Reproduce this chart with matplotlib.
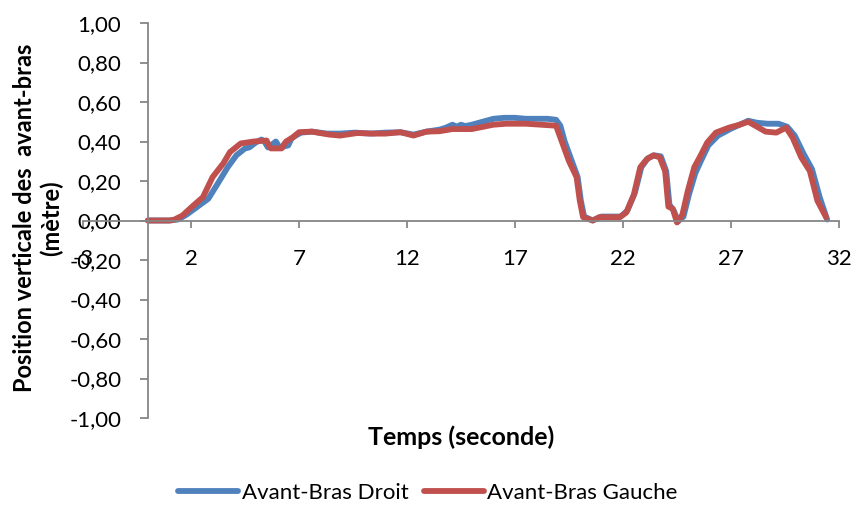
import matplotlib
matplotlib.use("Agg")
import matplotlib.pyplot as plt
from matplotlib.ticker import FixedLocator, FuncFormatter

# Vertical forearm position over time (seconds, metres)
t_droit = [0, 0.6, 1.0, 1.4, 1.8, 2.3, 2.8, 3.2, 3.7, 4.1, 4.5, 4.7, 5.0, 5.26,
           5.4, 5.56, 5.75, 5.93, 6.1, 6.3, 6.5, 6.65, 6.85, 7.1, 7.6, 8.3, 8.9,
           9.6, 10.3, 11.0, 11.7, 12.3, 12.9, 13.5, 13.8, 14.1, 14.3, 14.5, 14.7,
           15.0, 15.5, 16.0, 16.5, 17.0, 17.5, 18.0, 18.5, 18.9, 19.1, 19.3,
           19.6, 19.9, 20.05, 20.2, 20.6, 21.0, 21.9, 22.2, 22.55, 22.85, 23.15,
           23.45, 23.75, 24.0, 24.15, 24.35, 24.55, 24.8, 25.05, 25.35, 25.6,
           25.95, 26.4, 27.0, 27.5, 27.8, 28.2, 28.7, 29.2, 29.6, 29.95, 30.35,
           30.75, 31.1, 31.45]
y_droit = [0.0, 0.0, 0.0, 0.005, 0.03, 0.07, 0.11, 0.18, 0.27, 0.33, 0.365, 0.37,
           0.395, 0.41, 0.40, 0.37, 0.385, 0.40, 0.37, 0.375, 0.38, 0.415, 0.43,
           0.445, 0.45, 0.44, 0.44, 0.445, 0.44, 0.445, 0.447, 0.435, 0.45, 0.46,
           0.47, 0.485, 0.475, 0.485, 0.478, 0.485, 0.50, 0.515, 0.52, 0.52,
           0.515, 0.515, 0.515, 0.51, 0.48, 0.40, 0.31, 0.22, 0.10, 0.02, 0.0,
           0.02, 0.02, 0.05, 0.14, 0.27, 0.315, 0.33, 0.325, 0.25, 0.08, 0.05,
           -0.005, 0.02, 0.13, 0.24, 0.30, 0.38, 0.43, 0.465, 0.49, 0.505, 0.495,
           0.49, 0.49, 0.475, 0.43, 0.34, 0.26, 0.12, 0.005]

t_gauche = [0, 0.5, 1.0, 1.2, 1.6, 2.1, 2.55, 3.0, 3.5, 3.8, 4.3, 4.9, 5.5, 5.6,
            5.7, 6.2, 6.3, 6.4, 6.7, 7.0, 7.6, 8.4, 8.9, 9.7, 10.4, 11.0, 11.7,
            12.3, 12.9, 13.5, 14.1, 15.0, 16.0, 16.6, 17.5, 18.2, 18.9, 19.2,
            19.5, 19.85, 20.0, 20.15, 20.6, 20.9, 21.85, 22.15, 22.5, 22.8, 23.1,
            23.4, 23.7, 23.95, 24.1, 24.3, 24.5, 24.75, 25.0, 25.3, 25.55, 25.9,
            26.3, 26.9, 27.4, 27.8, 28.2, 28.6, 29.1, 29.55, 29.85, 30.25, 30.65,
            31.0, 31.4]
y_gauche = [0.0, 0.0, 0.0, 0.003, 0.025, 0.075, 0.118, 0.22, 0.29, 0.346, 0.39,
            0.40, 0.405, 0.38, 0.365, 0.365, 0.385, 0.40, 0.42, 0.447, 0.45, 0.435,
            0.43, 0.443, 0.44, 0.44, 0.447, 0.43, 0.45, 0.452, 0.463, 0.463, 0.485,
            0.49, 0.49, 0.485, 0.48, 0.39, 0.30, 0.22, 0.10, 0.017, 0.0, 0.017,
            0.017, 0.04, 0.13, 0.27, 0.31, 0.33, 0.32, 0.25, 0.07, 0.06, -0.01,
            0.03, 0.15, 0.27, 0.32, 0.395, 0.445, 0.47, 0.485, 0.50, 0.475, 0.45,
            0.445, 0.47, 0.42, 0.32, 0.25, 0.10, 0.017]

x_ticks = [-3, 2, 7, 12, 17, 22, 27, 32]
y_ticks = [-1.0, -0.8, -0.6, -0.4, -0.2, 0.0, 0.2, 0.4, 0.6, 0.8, 1.0]

BLUE = "#4F81BD"
RED = "#C0504D"
GREY = "#868686"
FONT = "Lato"

plt.rcParams["font.family"] = [FONT, "DejaVu Sans"]

fig = plt.figure(figsize=(8.56, 5.07), dpi=100)
ax = fig.add_axes([83 / 856, 1 - 418 / 507, (839 - 83) / 856, (418 - 23) / 507])

ax.plot(t_droit, y_droit, color=BLUE, lw=4.2, solid_capstyle="round",
        solid_joinstyle="round", label="Avant-Bras Droit")
ax.plot(t_gauche, y_gauche, color=RED, lw=4.2, solid_capstyle="round",
        solid_joinstyle="round", label="Avant-Bras Gauche")

ax.set_xlim(-3, 32)
ax.set_ylim(-1, 1)

for side in ("top", "right"):
    ax.spines[side].set_visible(False)
ax.spines["left"].set_position(("data", 0))
ax.spines["bottom"].set_position(("data", 0))
for side in ("left", "bottom"):
    ax.spines[side].set_color(GREY)
    ax.spines[side].set_linewidth(1.3)

ax.xaxis.set_major_locator(FixedLocator(x_ticks))
ax.yaxis.set_major_locator(FixedLocator(y_ticks))
ax.xaxis.set_major_formatter(FuncFormatter(lambda v, p: f"{int(round(v))}"))


def fr_fmt(v, p):
    s = f"{abs(v):.2f}".replace(".", ",")
    return ("-" + s) if v < -1e-9 else s


ax.yaxis.set_major_formatter(FuncFormatter(fr_fmt))
ax.tick_params(axis="x", direction="out", length=5, width=1.3, color=GREY,
               pad=15.5, labelsize=16)
ax.tick_params(axis="y", direction="out", length=6, width=1.3, color=GREY,
               pad=13, labelsize=16)

ax.set_xlabel("Temps (seconde)", fontsize=18, fontweight="bold")
ax.xaxis.set_label_coords(0.5, 1 - (437 - 23) / 395)
ax.xaxis.label.set_va("center")

fig.text(38 / 856, 1 - 218 / 507, "Position verticale des  avant-bras\n(mètre)",
         rotation=90, ha="center", va="center", multialignment="center",
         fontsize=17, fontweight="bold")

fig.legend(loc="center", bbox_to_anchor=(0.5, 1 - 493 / 507), ncol=2,
           frameon=False, fontsize=16, handlelength=2.7, handletextpad=0.15,
           columnspacing=0.7)

fig.savefig("out.png", dpi=100)
